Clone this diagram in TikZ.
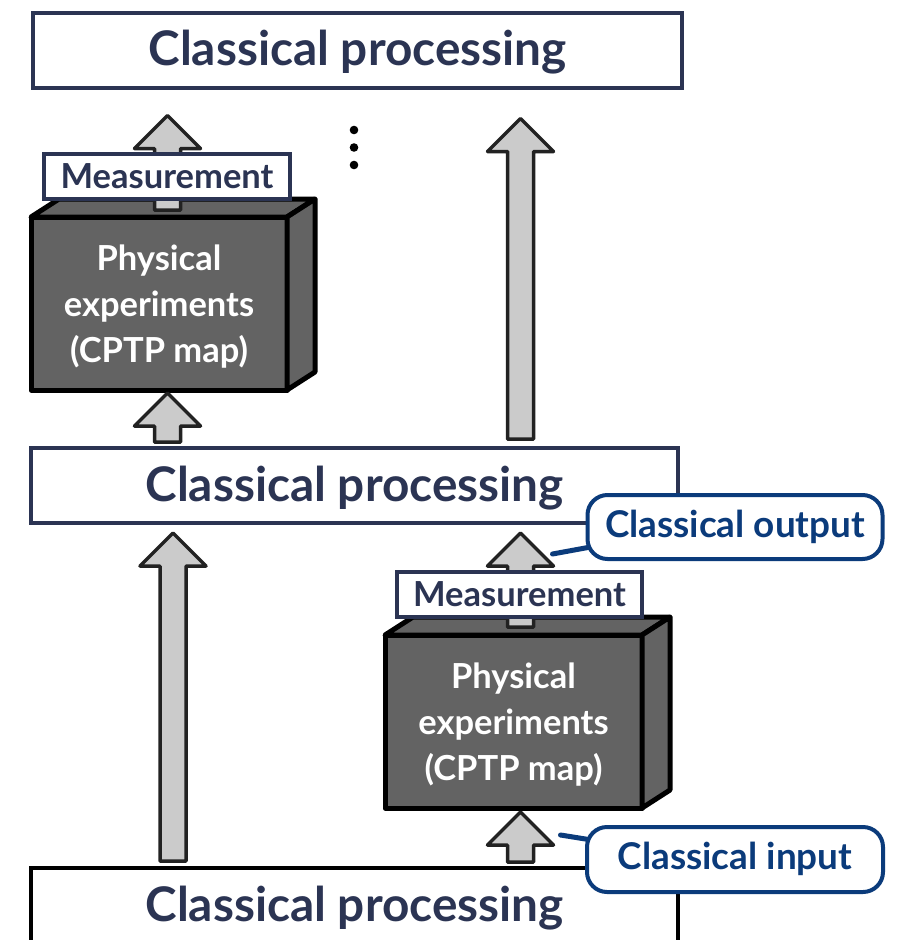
\documentclass[tikz,border=0pt]{standalone}
\usepackage{fontspec}
\setmainfont{Lato}
\usetikzlibrary{calc}

\definecolor{navy}{HTML}{2B3453}
\definecolor{calloutblue}{HTML}{0B3B7B}
\definecolor{arrowgray}{HTML}{CBCBCB}
\definecolor{arrowline}{HTML}{222222}
\definecolor{cubegray}{HTML}{636363}

\pgfdeclarelayer{background}
\pgfsetlayers{background,main}

\tikzset{
  procbox/.style={draw=navy, line width=4pt, fill=white, minimum width=647pt,
    minimum height=75pt, inner sep=0pt, outer sep=0pt, text=navy,
    text height=37pt, text depth=6pt,
    font=\bfseries\fontsize{47.7}{50}\selectfont},
  cubefront/.style={draw=black, line width=5pt, fill=cubegray, line join=round,
    inner sep=0pt, outer sep=0pt, minimum width=256pt, minimum height=173pt,
    text=white, align=center, text depth=-3pt,
    font=\bfseries\fontsize{34.5}{46}\selectfont},
  cubeside/.style={draw=black, line width=5pt, fill=cubegray, line join=round},
  measbox/.style={draw=navy, line width=4pt, fill=white, text=navy,
    font=\bfseries\fontsize{34.5}{36}\selectfont, minimum width=245pt,
    text height=25pt, text depth=2pt,
    minimum height=45pt, inner sep=0pt, outer sep=0pt},
  callout/.style={draw=calloutblue, line width=4pt, fill=white, rounded corners=20pt,
    text=calloutblue, font=\bfseries\fontsize{36.9}{40}\selectfont,
    text height=26pt, text depth=6pt,
    minimum width=295pt, minimum height=64pt, inner sep=0pt, outer sep=0pt},
  pointer/.style={draw=calloutblue, line width=5pt, line cap=round},
  blockarrow/.style={draw=arrowline, fill=arrowgray, line width=3.5pt, line join=round},
}

% upward block arrow from a tail point to a tip point (same column)
\newcommand\blockup[2]{%
  \draw[blockarrow] let \p1=(#1), \p2=(#2) in
    (\x1-13pt,\y1) -- (\x1-13pt,\y2-33pt) -- (\x1-33pt,\y2-33pt) -- (\x1,\y2)
    -- (\x1+33pt,\y2-33pt) -- (\x1+13pt,\y2-33pt) -- (\x1+13pt,\y1) -- cycle;}

% three-faced box: front face is a node, top and right faces are added
\newcommand\cubefaces[1]{%
  \draw[cubeside] (#1.north west) -- ++(28,-18) -- ($(#1.north east)+(28,-18)$)
    -- (#1.north east) -- cycle;
  \draw[cubeside] (#1.north east) -- ++(28,-18) -- ($(#1.south east)+(28,-18)$)
    -- (#1.south east) -- cycle;}

\begin{document}
\begin{tikzpicture}[x=1pt, y=-1pt]
\begin{pgfonlayer}{background}
  \fill[white] (0,0) rectangle (897,940);
\end{pgfonlayer}
\useasboundingbox (0,0) rectangle (897,940);

% processing stages
\node[procbox, minimum width=649pt] (topbox) at (357.5,50) {Classical processing};
\node[procbox] (midbox) at (354.5,485.5) {Classical processing};
\node[procbox, draw=black] (botbox) at (354.5,905.5) {Classical processing};

% arrow columns
\coordinate (colA) at (167.5,0);
\coordinate (colB) at (173,0);
\coordinate (colC) at (520.5,0);

% physical experiments
\node[cubefront] (cubeL) at (159,303.5) {Physical\\experiments\\(CPTP map)};
\cubefaces{cubeL}
\node[cubefront, minimum width=257pt] (cubeR) at (513.5,721.5) {Physical\\experiments\\(CPTP map)};
\cubefaces{cubeR}

% data flow
\blockup{[yshift=7pt]cubeL.north -| colA}{[yshift=-28pt]topbox.south -| colA}
\blockup{[yshift=6pt]midbox.north -| colA}{[yshift=-3pt]cubeL.south -| colA}
\blockup{[yshift=9pt]midbox.north -| colC}{[yshift=-31pt]topbox.south -| colC}
\blockup{[yshift=7pt]botbox.north -| colB}{[yshift=-10pt]midbox.south -| colB}
\blockup{[yshift=8pt]cubeR.north -| colC}{[yshift=-10pt]midbox.south -| colC}
\blockup{[yshift=6pt]botbox.north -| colC}{[yshift=-4pt]cubeR.south -| colC}

% measurement labels
\node[measbox, minimum width=246pt] (measL) at (167,176.5) {Measurement};
\node[measbox] (measR) at (519.5,594.5) {Measurement};

% further rounds
\foreach \yy in {130,147.5,165} \fill (354,\yy) circle (4.3);

% callouts with their pointers
\node[callout] (outCall) at (735,527) {Classical output};
\node[callout, minimum width=296pt, minimum height=65pt] (inCall) at (735,859.5) {Classical input};
\coordinate (outFoot) at ($(midbox.south -| colC)+(32,31)$);
\coordinate (inFoot) at ($(cubeR.south -| colC)+(40,27)$);
\begin{pgfonlayer}{background}
  \draw[pointer] (outFoot) -- ($(outCall.west)+(14,18)$);
  \draw[pointer] (inFoot) -- ($(inCall.west)+(14,-18)$);
\end{pgfonlayer}
\end{tikzpicture}
\end{document}
